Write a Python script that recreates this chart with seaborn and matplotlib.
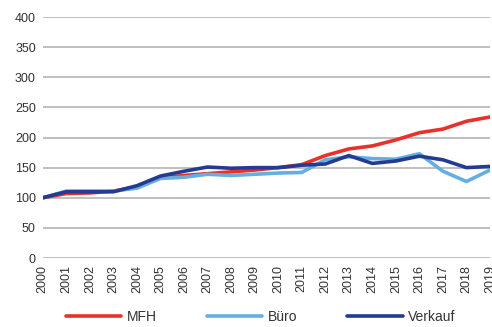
import matplotlib
matplotlib.use('Agg')
import matplotlib.pyplot as plt
import seaborn as sns
import pandas as pd

years = list(range(2000, 2020))
mfh = [100, 107, 108, 111, 118, 133, 137, 140, 143, 146, 150, 155, 170, 181, 186, 196, 208, 214, 227, 234]
buero = [100, 111, 111, 111, 116, 132, 134, 139, 137, 139, 141, 142, 163, 168, 165, 164, 173, 144, 127, 146]
verkauf = [100, 110, 110, 110, 120, 136, 144, 151, 149, 150, 150, 154, 156, 170, 157, 161, 169, 163, 150, 152]
series = ['MFH', 'Büro', 'Verkauf']
colors = ['#e8312a', '#64aee3', '#233c91']

df = pd.DataFrame({'Jahr': years, 'MFH': mfh, 'Büro': buero, 'Verkauf': verkauf})
df = df.melt(id_vars='Jahr', var_name='Typ', value_name='Index')

sns.set_style('white')
plt.rcParams['font.family'] = ['Liberation Sans', 'DejaVu Sans']

fig = plt.figure(figsize=(4.92, 3.27), dpi=100)
ax = fig.add_axes([0.087, 0.211, 0.909, 0.737])

sns.lineplot(data=df, x='Jahr', y='Index', hue='Typ', hue_order=series,
             palette=colors, linewidth=2.6, ax=ax, zorder=3)

ax.set_xlim(2000, 2019)
ax.set_ylim(0, 400)
ax.set_yticks(range(0, 401, 50))
ax.set_xticks(years)
ax.set_xticklabels([str(y) for y in years], rotation=90)
ax.tick_params(axis='both', labelsize=9, colors='#333333', length=0, pad=5)
ax.yaxis.grid(True, color='#b4b4b4', linewidth=1.2)
ax.xaxis.grid(False)
for s in ax.spines.values():
    s.set_visible(False)
ax.set_xlabel('')
ax.set_ylabel('')

handles, labels = ax.get_legend_handles_labels()
ax.get_legend().remove()
fig.legend(handles, labels, loc='center', bbox_to_anchor=(0.53, 0.03),
           ncol=3, frameon=False, fontsize=10, handlelength=4.0,
           handletextpad=0.4, columnspacing=3.6, labelcolor='#333333')

fig.savefig('out.png', dpi=100)
